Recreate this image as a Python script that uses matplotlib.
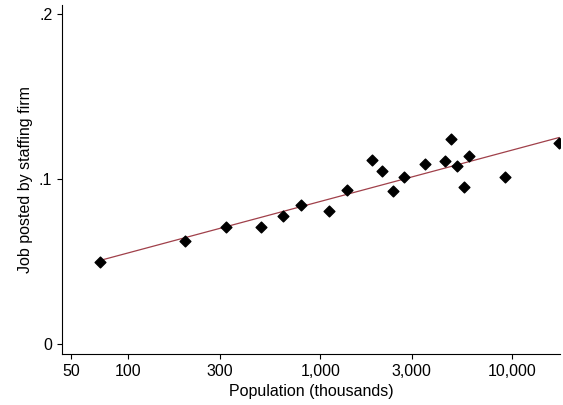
import numpy as np
import matplotlib.pyplot as plt
from matplotlib.ticker import FixedLocator, NullLocator

plt.rcParams['font.family'] = ['Liberation Sans', 'DejaVu Sans']

# population (thousands) and share of jobs posted by staffing firms
pop = [71, 198, 324, 493, 641, 796, 1114, 1384, 1866, 2104, 2400, 2740,
       3525, 4480, 4810, 5170, 5620, 5970, 9200, 17580]
share = [0.0497, 0.0624, 0.0709, 0.0709, 0.0776, 0.0842, 0.0806, 0.0933,
         0.1115, 0.1048, 0.0927, 0.1012, 0.109, 0.111, 0.124, 0.108,
         0.095, 0.114, 0.101, 0.122]

xticks = [50, 100, 300, 1000, 3000, 10000]
xlabels = ['50', '100', '300', '1,000', '3,000', '10,000']

# fitted line in log(pop)
b, a = np.polyfit(np.log10(pop), share, 1)
xs = np.array([min(pop), max(pop)])
ys = a + b * np.log10(xs)

fig = plt.figure(figsize=(5.63, 4.05), dpi=100)
ax = fig.add_axes([62/563, 51/405, 498/563, 349/405])
ax.plot(xs, ys, color='#a0404a', lw=0.9)
ax.scatter(pop, share, marker='D', s=30, color='black', zorder=3)
ax.set_xscale('log')
ax.set_xlim(45, 17800)
ax.set_ylim(-0.006, 0.2055)
ax.xaxis.set_major_locator(FixedLocator(xticks))
ax.xaxis.set_minor_locator(NullLocator())
ax.set_xticklabels(xlabels)
ax.set_yticks([0, 0.1, 0.2])
ax.set_yticklabels(['0', '.1', '.2'])
ax.tick_params(labelsize=11.5)
ax.spines['top'].set_visible(False)
ax.spines['right'].set_visible(False)
ax.set_xlabel('Population (thousands)', fontsize=11.5)
ax.set_ylabel('Job posted by staffing firm', fontsize=11.5)
fig.savefig('out.png', dpi=100)
